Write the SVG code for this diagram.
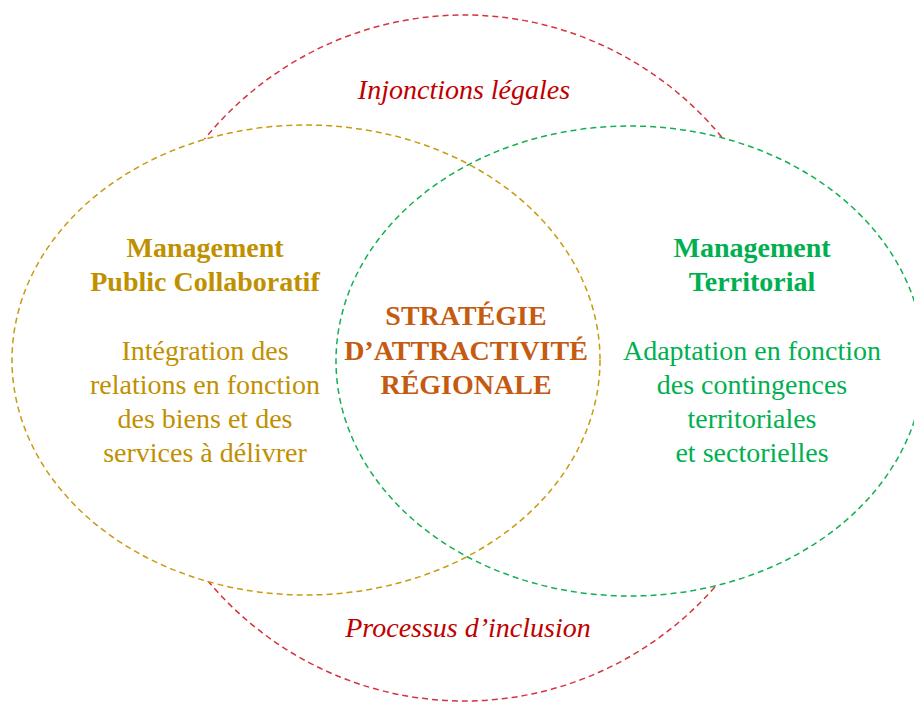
<svg xmlns="http://www.w3.org/2000/svg" width="914" height="702" viewBox="0 0 914 702">
<style>
.t{font-family:"Liberation Serif","Times New Roman",serif;font-size:28px;text-anchor:middle}
.b{font-weight:bold}
.i{font-style:italic}
.red{fill:#C00000}
.yel{fill:#BF9000}
.grn{fill:#00B050}
.org{fill:#C55A11}
.ring{fill:none;stroke-width:1.5;stroke-dasharray:6 4}
</style>
<rect width="914" height="702" fill="#fff"/>
<g id="outer">
<ellipse class="ring" cx="464" cy="358" rx="337" ry="343" stroke="#D6333F"/>
</g>
<g id="fills">
<ellipse cx="306" cy="360" rx="294" ry="235" fill="#fff"/>
<ellipse cx="630" cy="361" rx="294" ry="235" fill="#fff"/>
</g>
<g id="left">
<ellipse class="ring" cx="306" cy="360" rx="294" ry="235" stroke="#C89B10"/>
<text class="t b yel" x="205" y="257">Management</text>
<text class="t b yel" x="205" y="291">Public Collaboratif</text>
<text class="t yel" x="205" y="360">Intégration des</text>
<text class="t yel" x="205" y="394">relations en fonction</text>
<text class="t yel" x="205" y="428">des biens et des</text>
<text class="t yel" x="205" y="462">services à délivrer</text>
</g>
<g id="right">
<ellipse class="ring" cx="630" cy="361" rx="294" ry="235" stroke="#12B050"/>
<text class="t b grn" x="752" y="257">Management</text>
<text class="t b grn" x="752" y="291">Territorial</text>
<text class="t grn" x="752" y="360">Adaptation en fonction</text>
<text class="t grn" x="752" y="394">des contingences</text>
<text class="t grn" x="752" y="428">territoriales</text>
<text class="t grn" x="752" y="462">et sectorielles</text>
</g>
<g id="center">
<text class="t b org" x="466" y="325">STRATÉGIE</text>
<text class="t b org" x="466" y="360">D’ATTRACTIVITÉ</text>
<text class="t b org" x="466" y="394">RÉGIONALE</text>
</g>
<g id="labels">
<text class="t i red" x="464" y="99">Injonctions légales</text>
<text class="t i red" x="468" y="637">Processus d’inclusion</text>
</g>
</svg>
